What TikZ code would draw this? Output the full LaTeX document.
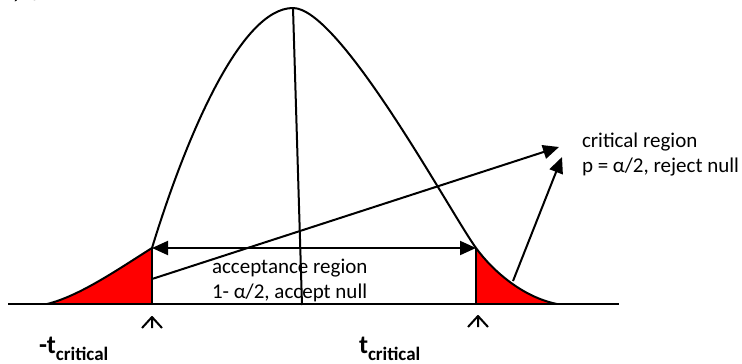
\documentclass[tikz,border=0pt]{standalone}
\usepackage{fontspec}
\setmainfont{Carlito}
\usetikzlibrary{arrows.meta}

\begin{document}
\begin{tikzpicture}[x=1pt,y=-1pt,>={Triangle[length=16pt,width=14pt]},line width=2pt,line join=round,
  lbl/.style={font=\fontsize{21}{25}\selectfont,align=left,inner sep=0pt,anchor=west},
  tval/.style={anchor=base west,inner sep=0pt,font=\fontsize{26}{28}\selectfont\bfseries}]
\useasboundingbox (0,0) rectangle (742,364);
\coordinate (lc) at (152,248);
\coordinate (rc) at (476,248);
\coordinate (lfoot) at (152,304);
\coordinate (rfoot) at (476,304);
\coordinate (peak) at (293,8);
\coordinate (mid) at (302,305);
\coordinate (lmid) at (152,279);
\coordinate (rmid) at (513,281);
\coordinate (tipA) at (559,147);
\coordinate (tipB) at (562,157);
\coordinate (ltick) at (152,317);
\coordinate (rtick) at (478,316);
\fill[red] (47,304) .. controls (80,296) and (120,268) .. (lc) -- (lfoot) -- cycle;
\fill[red] (rc) .. controls (492,270) and (522,297) .. (557,304) -- (rfoot) -- cycle;
\draw (8,304) -- (619,304);
\draw (47,304) .. controls (80,296) and (120,268) .. (lc)
  .. controls (185,140) and (240,8) .. (peak)
  .. controls (340,8) and (450,212) .. (rc)
  .. controls (492,270) and (522,297) .. (557,304);
\draw (lfoot) -- (lc);
\draw (rfoot) -- (rc);
\draw (peak) -- (mid);
\draw[<->] (lc) -- (rc);
\draw[->] (lmid) -- (tipA);
\draw[->] (rmid) -- (tipB);
\draw (142,328) -- (ltick) -- (162,328) (ltick) -- (152,328);
\draw (468,327) -- (rtick) -- (488,327) (rtick) -- (478,327);
\node[lbl] (acc) at (211,280) {acceptance region\\1- α/2, accept null};
\node[lbl] (crit) at (581,155) {critical region\\p = α/2, reject null};
\node[tval] (tlow) at (38,353) {-t\raisebox{-7pt}{\fontsize{19}{20}\selectfont critical}};
\node[tval] (thigh) at (358,353) {t\raisebox{-7pt}{\fontsize{19}{20}\selectfont critical}};
\node[anchor=base west,inner sep=0pt,font=\fontsize{28}{30}\selectfont\itshape] (frag) at (15,1) {/ π};
\end{tikzpicture}
\end{document}
